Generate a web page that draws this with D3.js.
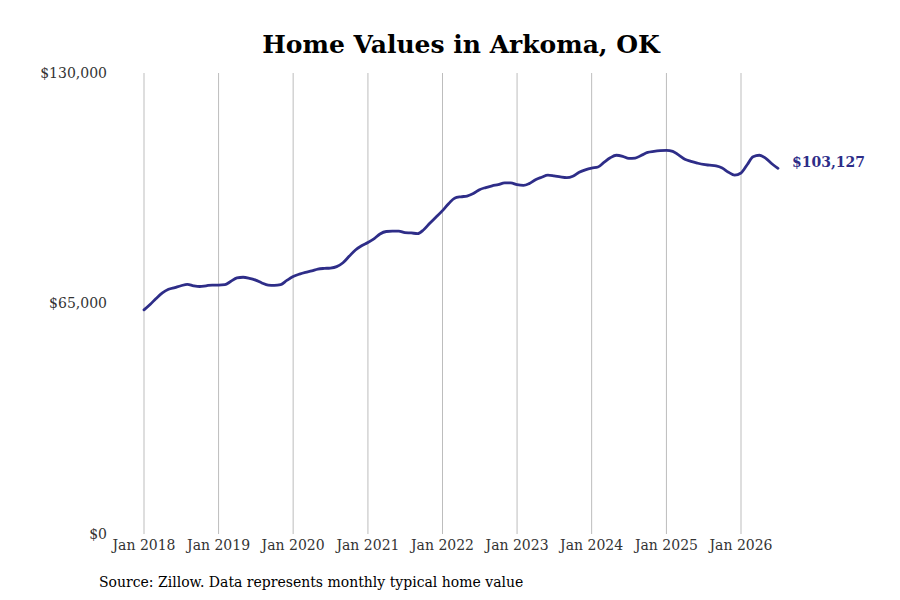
<html>
<head>
  <meta charset="utf-8">
  <style>
    body { margin: 0; background: #fff; }
    text { font-family: "DejaVu Serif", serif; }
  </style>
</head>
<body>
  <svg></svg>
  <script src="https://d3js.org/d3.v7.min.js"></script>
  <script>
      // monthly typical home value, Jan 2018 .. Jul 2026
      let startMonth = new Date(2018, 0, 1);
      let values = [
        63200, 64800, 66400, 68000, 69000, 69500, 70000, 70400, 70000, 69800, 70000, 70200,
        70200, 70300, 71200, 72200, 72400, 72100, 71600, 70800, 70200, 70100, 70300, 71500,
        72600, 73300, 73800, 74200, 74700, 74900, 75000, 75400, 76500, 78300, 80100, 81300,
        82200, 83300, 84600, 85300, 85400, 85400, 85000, 84900, 84700, 85800, 87700, 89400,
        91200, 93200, 94700, 95100, 95300, 96000, 97100, 97700, 98200, 98500, 99000, 99000,
        98500, 98300, 98800, 99900, 100600, 101200, 101000, 100700, 100500, 100900, 102000, 102700,
        103200, 103500, 104800, 106100, 106800, 106500, 105900, 106000, 106800, 107600, 107900, 108100,
        108200, 107900, 106900, 105700, 105100, 104600, 104200, 104000, 103800, 103200, 102000, 101200,
        101800, 104200, 106400, 106800, 106000, 104400, 103127
      ];
      let yTicks = [0, 65000, 130000];
      let xTickYears = [2018, 2019, 2020, 2021, 2022, 2023, 2024, 2025, 2026];

      let width = 900, height = 600;
      let svg = d3.select("svg")
          .attr("width", width)
          .attr("height", height);

      let data = values.map((v, i) => ({ date: d3.timeMonth.offset(startMonth, i), value: v }));

      let x = d3.scaleTime()
          .domain([new Date(2018, 0, 1), new Date(2026, 0, 1)])
          .range([144, 741]);
      let y = d3.scaleLinear()
          .domain([0, 130000])
          .range([534, 73]);

      // title
      svg.append("text")
          .attr("x", 461).attr("y", 53)
          .attr("text-anchor", "middle")
          .style("font-size", "25px")
          .style("font-weight", "bold")
          .text("Home Values in Arkoma, OK");

      // vertical grid lines
      svg.append("g")
          .selectAll("line")
          .data(xTickYears)
          .enter()
          .append("line")
          .attr("x1", d => x(new Date(d, 0, 1)))
          .attr("x2", d => x(new Date(d, 0, 1)))
          .attr("y1", y(130000))
          .attr("y2", y(0))
          .attr("stroke", "#bdbdbd")
          .attr("stroke-width", 1);

      // x labels
      svg.append("g")
          .selectAll("text")
          .data(xTickYears)
          .enter()
          .append("text")
          .attr("x", d => x(new Date(d, 0, 1)))
          .attr("y", 550)
          .attr("text-anchor", "middle")
          .style("font-size", "14px")
          .attr("fill", "#333")
          .text(d => "Jan " + d);

      // y labels
      svg.append("g")
          .selectAll("text")
          .data(yTicks)
          .enter()
          .append("text")
          .attr("x", 107)
          .attr("y", d => y(d))
          .attr("dy", "0.35em")
          .attr("text-anchor", "end")
          .style("font-size", "14px")
          .attr("fill", "#333")
          .text(d => "$" + d3.format(",")(d));

      // line
      let line = d3.line()
          .x(d => x(d.date))
          .y(d => y(d.value))
          .curve(d3.curveMonotoneX);

      svg.append("path")
          .datum(data)
          .attr("d", line)
          .attr("fill", "none")
          .attr("stroke", "#2e2d88")
          .attr("stroke-width", 2.8)
          .attr("stroke-linejoin", "round")
          .attr("stroke-linecap", "round");

      // end label
      let last = data[data.length - 1];
      svg.append("text")
          .attr("x", x(last.date) + 14)
          .attr("y", y(last.value) - 6)
          .attr("dy", "0.35em")
          .style("font-size", "14px")
          .style("font-weight", "bold")
          .attr("fill", "#2e2d88")
          .text("$" + d3.format(",")(last.value));

      // source
      svg.append("text")
          .attr("x", 99).attr("y", 587)
          .style("font-size", "14px")
          .attr("fill", "#000")
          .text("Source: Zillow. Data represents monthly typical home value");
  </script>
</body>
</html>
